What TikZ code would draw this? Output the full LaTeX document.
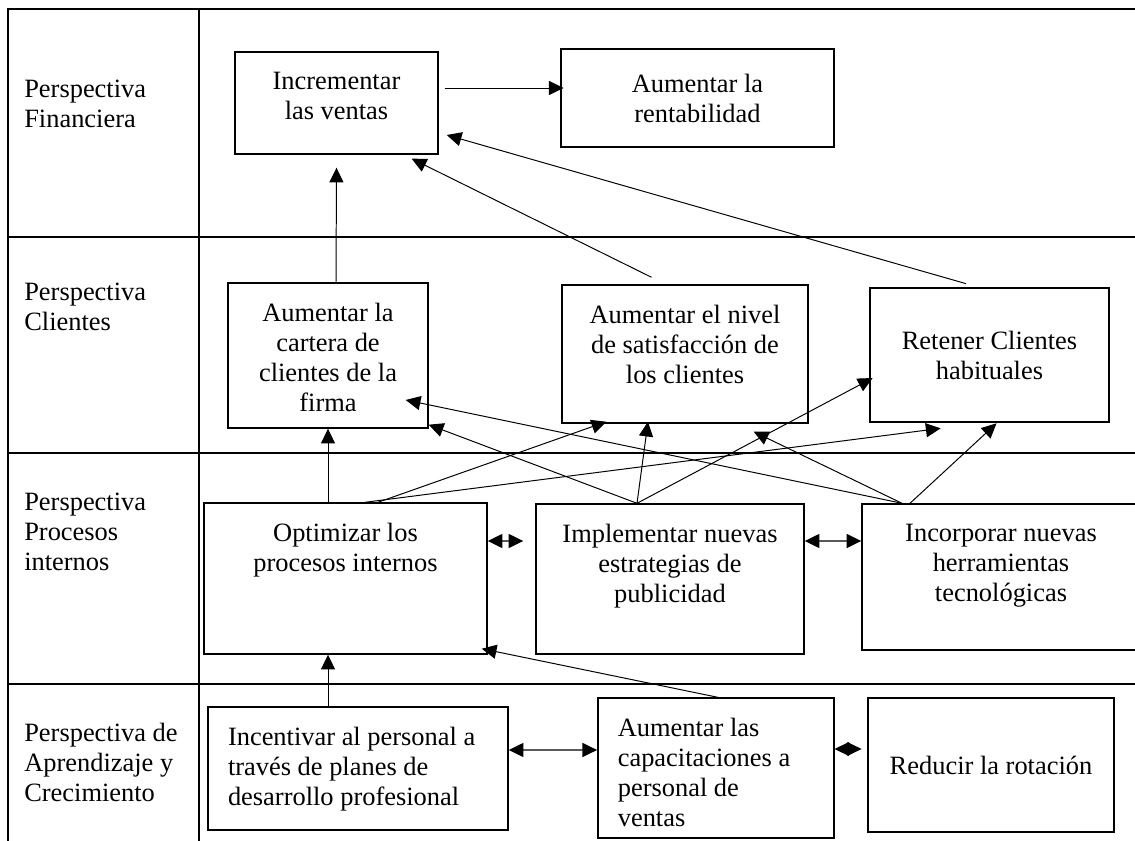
\documentclass[tikz,border=0pt]{standalone}
\usepackage{fontspec}
\setmainfont{Liberation Serif}
\usepackage{tikz}
\usetikzlibrary{arrows.meta, backgrounds}
\pgfdeclarelayer{arrows}
\pgfsetlayers{background,arrows,main}
\tikzset{
  goal/.style={rectangle, draw=black, line width=1pt, inner sep=0pt},
  goal/left/.style={rectangle, draw=black, line width=1pt, inner xsep=0.5cm, inner ysep=0pt},
  goal/key/.style={rectangle, draw=black, line width=1.9pt, inner sep=0pt, align=center},
  lanelbl/.style={anchor=north west, inner sep=0pt, align=left},
  tbl/.style={draw=black, line width=1.4pt},
  ar/.style={-{Triangle[length=10.5pt,width=10pt]}, draw=black, line width=0.7pt},
  dar/.style={{Triangle[length=10.5pt,width=10pt]}-{Triangle[length=10.5pt,width=10pt]}, draw=black, line width=1pt},
  dmd/.style={{Triangle[length=0.36cm,width=0.34cm]}-{Triangle[length=0.36cm,width=0.34cm]},
    draw=black, line width=1pt, shorten >=0.125cm},
}
\newcommand{\GoalC}[3]{\parbox[c][#2][t]{#1}{\centering\vspace*{0.5cm}#3}}
\newcommand{\GoalL}[3]{\parbox[c][#2][t]{#1}{\raggedright\vspace*{0.5cm}#3}}

\begin{document}
\begin{tikzpicture}[every node/.style={font=\fontsize{18.8}{21.3}\selectfont}]

\useasboundingbox (0,0) rectangle (28.375,-21.025);

\node[lanelbl] (LF) at (0.6,-2.0)    {Perspectiva\\Financiera};
\node[lanelbl] (LC) at (0.6,-7.075)  {Perspectiva\\Clientes};
\node[lanelbl] (LP) at (0.6,-12.325) {Perspectiva\\Procesos\\internos};
\node[lanelbl] (LA) at (0.6,-18.075) {Perspectiva de\\Aprendizaje y\\Crecimiento};

\node[goal] (INC) at (8.4125,-2.575) {\GoalC{5.075cm}{2.55cm}{Incrementar\\las ventas}};
\node[goal/key, minimum width=6.825cm, minimum height=2.45cm] (REN) at (17.4375,-2.45) {Aumentar la\\rentabilidad};

\node[goal] (CAR) at (8.2,-8.8875) {\GoalC{5cm}{3.625cm}{Aumentar la\\cartera de\\clientes de la\\firma}};
\node[goal] (SAT) at (17.125,-8.85) {\GoalC{6.15cm}{3.45cm}{Aumentar el nivel\\de satisfacción de\\los clientes}};
\node[goal/key, minimum width=5.975cm, minimum height=3.35cm] (RET) at (24.7375,-8.875) {Retener Clientes\\habituales};

\node[goal] (OPT) at (8.6375,-14.4625) {\GoalC{7.075cm}{3.775cm}{Optimizar los\\procesos internos}};
\node[goal] (IMP) at (16.75,-14.475) {\GoalC{6.7cm}{3.75cm}{Implementar nuevas\\estrategias de\\publicidad}};
\node[goal] (HER) at (25.025,-14.425) {\GoalC{6.95cm}{3.65cm}{Incorporar nuevas\\herramientas\\tecnológicas}};

\node[goal/left] (INS) at (8.95,-19.2125) {\GoalL{6.5cm}{3.075cm}{Incentivar al personal a\\través de planes de\\desarrollo profesional}};
\node[goal/left] (CAP) at (17.895,-19.2) {\GoalL{4.9cm}{3.5cm}{Aumentar las\\capacitaciones a\\personal de\\ventas}};
\node[goal/key, minimum width=6.15cm, minimum height=3.35cm] (RED) at (24.775,-19.125) {Reducir la rotación};

\begin{scope}[on background layer]
  \draw[tbl] (0.2,-21.5) -- (0.2,-0.225) -- (28.6,-0.225);
  \draw[tbl] (0.2,-5.925) -- (28.6,-5.925);
  \draw[tbl] (0.2,-11.325) -- (28.6,-11.325);
  \draw[tbl] (0.2,-17.1) -- (28.6,-17.1);
  \draw[tbl] (4.975,-0.225) -- (4.975,-21.5);
\end{scope}

\begin{pgfonlayer}{arrows}
\draw[ar] ([xshift=0.15cm,yshift=0.375cm]INC.east) -- ([xshift=0.1cm,yshift=0.25cm]REN.west);
\draw[ar] ([xshift=0.2cm]CAR.north) -- ([yshift=-0.325cm]INC.south);
\draw[ar] ([xshift=-0.8375cm,yshift=0.175cm]SAT.north) -- ([xshift=-0.675cm,yshift=-0.1cm]INC.south east);
\draw[ar] ([xshift=-0.5875cm,yshift=0.075cm]RET.north) -- ([xshift=0.2cm,yshift=-0.8cm]INC.east);

\draw[ar] ([xshift=-0.4375cm]OPT.north) -- (CAR.south);
\draw[ar] ([xshift=0.8125cm]OPT.north) -- ([xshift=1.125cm,yshift=0.05cm]SAT.south west);
\draw[ar] ([xshift=0.4875cm]OPT.north) -- ([xshift=1.8cm,yshift=-0.125cm]RET.south west);
\draw[ar] ([xshift=-0.825cm]IMP.north) -- ([yshift=0.1cm]CAR.south east);
\draw[ar] ([xshift=-0.825cm]IMP.north) -- ([xshift=-0.925cm,yshift=0.05cm]SAT.south);
\draw[ar] ([xshift=-0.825cm]IMP.north) -- ([xshift=0.1cm,yshift=-0.575cm]RET.west);
\draw[ar] ([xshift=-2.475cm]HER.north) -- ([xshift=-0.575cm,yshift=-1.1125cm]CAR.east);
\draw[ar] ([xshift=-2.475cm]HER.north) -- ([xshift=-1.375cm,yshift=-0.2cm]SAT.south east);
\draw[ar] ([xshift=-2.275cm]HER.north) -- ([xshift=0.175cm]RET.south);

\draw[dar, shorten >=0.3cm] ([yshift=0.9375cm]OPT.east) -- ([yshift=0.95cm]IMP.west);
\draw[dar] ([yshift=0.95cm]IMP.east) -- ([yshift=0.9cm]HER.west);

\draw[ar] ([xshift=-0.75cm]INS.north) -- ([xshift=-0.4375cm]OPT.south);
\draw[ar] ([xshift=0.05cm]CAP.north) -- ([xshift=-0.15cm,yshift=0.15cm]OPT.south east);
\draw[dar] ([yshift=0.4625cm]INS.east) -- ([yshift=0.45cm]CAP.west);
\draw[dmd] ([yshift=0.475cm]CAP.east) -- ([yshift=0.4cm]RED.west);
\end{pgfonlayer}

\end{tikzpicture}
\end{document}
